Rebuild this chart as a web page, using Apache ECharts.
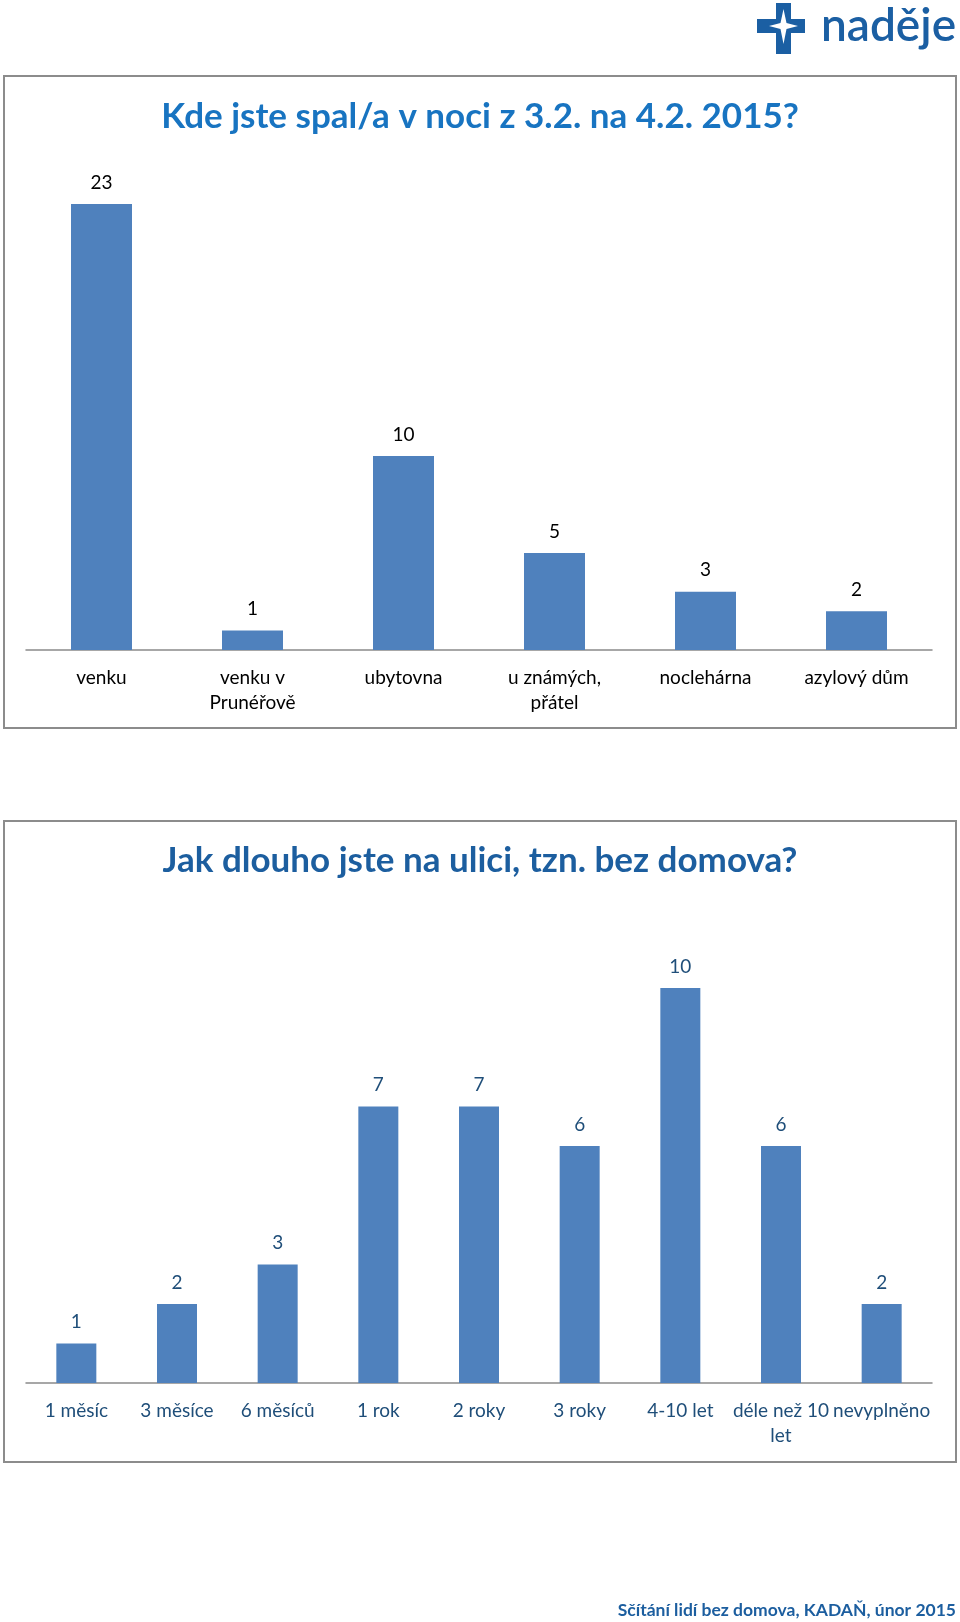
<!DOCTYPE html>
<html>
<head>
<meta charset="utf-8">
<script src="https://cdn.jsdelivr.net/npm/echarts@6/dist/echarts.min.js"></script>
<style>
html,body{margin:0;padding:0;background:#fff;}
#main{width:960px;height:1622px;}
</style>
</head>
<body>
<div id="main"></div>
<script>
// ---- data ----
var title1 = 'Kde jste spal/a v noci z 3.2. na 4.2. 2015?';
var categories1 = ['venku', 'venku v\nPrunéřově', 'ubytovna', 'u známých,\npřátel', 'noclehárna', 'azylový dům'];
var values1 = [23, 1, 10, 5, 3, 2];

var title2 = 'Jak dlouho jste na ulici, tzn. bez domova?';
var categories2 = ['1 měsíc', '3 měsíce', '6 měsíců', '1 rok', '2 roky', '3 roky', '4-10 let', 'déle než 10\nlet', 'nevyplněno'];
var values2 = [1, 2, 3, 7, 7, 6, 10, 6, 2];

var footerText = 'Sčítání lidí bez domova, KADAŇ, únor 2015';
var logoText = 'naděje';

// ---- chart ----
var FONT = 'Lato, "Noto Sans", sans-serif';
var BAR = '#4F81BD';
var chart = echarts.init(document.getElementById('main'), null, {renderer: 'canvas'});

chart.setOption({
  backgroundColor: '#ffffff',
  animation: false,
  title: [
    {text: title1, left: 'center', top: 94,
     textStyle: {fontFamily: FONT, fontWeight: 'bold', fontSize: 35, color: '#1874C1'}},
    {text: title2, left: 'center', top: 838,
     textStyle: {fontFamily: FONT, fontWeight: 'bold', fontSize: 35, color: '#1C5E9F'}}
  ],
  grid: [
    {left: 26, width: 906, top: 204, bottom: 972, containLabel: false},
    {left: 26, width: 906, top: 988, bottom: 239, containLabel: false}
  ],
  xAxis: [
    {type: 'category', gridIndex: 0, data: categories1,
     axisLine: {lineStyle: {color: '#8a8a8a', width: 1.5}},
     axisTick: {show: false},
     axisLabel: {color: '#000', fontFamily: FONT, fontSize: 19, lineHeight: 25, margin: 15, interval: 0}},
    {type: 'category', gridIndex: 1, data: categories2,
     axisLine: {lineStyle: {color: '#8a8a8a', width: 1.5}},
     axisTick: {show: false},
     axisLabel: {color: '#1F4E79', fontFamily: FONT, fontSize: 19, lineHeight: 25, margin: 15, interval: 0}}
  ],
  yAxis: [
    {type: 'value', gridIndex: 0, min: 0, max: 23, show: false, splitLine: {show: false}},
    {type: 'value', gridIndex: 1, min: 0, max: 10, show: false, splitLine: {show: false}}
  ],
  series: [
    {type: 'bar', xAxisIndex: 0, yAxisIndex: 0, data: values1, barWidth: 61,
     itemStyle: {color: BAR},
     label: {show: true, position: 'top', distance: 12, color: '#000', fontFamily: FONT, fontSize: 19}},
    {type: 'bar', xAxisIndex: 1, yAxisIndex: 1, data: values2, barWidth: 40,
     itemStyle: {color: BAR},
     label: {show: true, position: 'top', distance: 12, color: '#1F4E79', fontFamily: FONT, fontSize: 19}}
  ],
  graphic: [
    {type: 'rect', shape: {x: 4, y: 76, width: 952, height: 652},
     style: {fill: 'none', stroke: '#8c8c8c', lineWidth: 2}, z: -1},
    {type: 'rect', shape: {x: 4, y: 821, width: 952, height: 641},
     style: {fill: 'none', stroke: '#8c8c8c', lineWidth: 2}, z: -1},
    // logo cross
    {type: 'rect', shape: {x: 776, y: 3, width: 15, height: 51}, style: {fill: '#1B5FA3'}},
    {type: 'rect', shape: {x: 757, y: 19, width: 48, height: 14}, style: {fill: '#1B5FA3'}},
    {type: 'polygon', shape: {points: [[783.5, 9], [786.5, 23], [798, 26], [786.5, 29], [783.5, 44], [780.5, 29], [769, 26], [780.5, 23]]},
     style: {fill: '#ffffff'}},
    {type: 'text', left: 821, top: 3,
     style: {text: logoText, font: '600 46px ' + FONT, fill: '#1B5FA3'}},
    // footer
    {type: 'text', right: 4, top: 1601,
     style: {text: footerText, font: 'bold 17.5px ' + FONT, fill: '#1C5E9F'}}
  ]
});
</script>
</body>
</html>
